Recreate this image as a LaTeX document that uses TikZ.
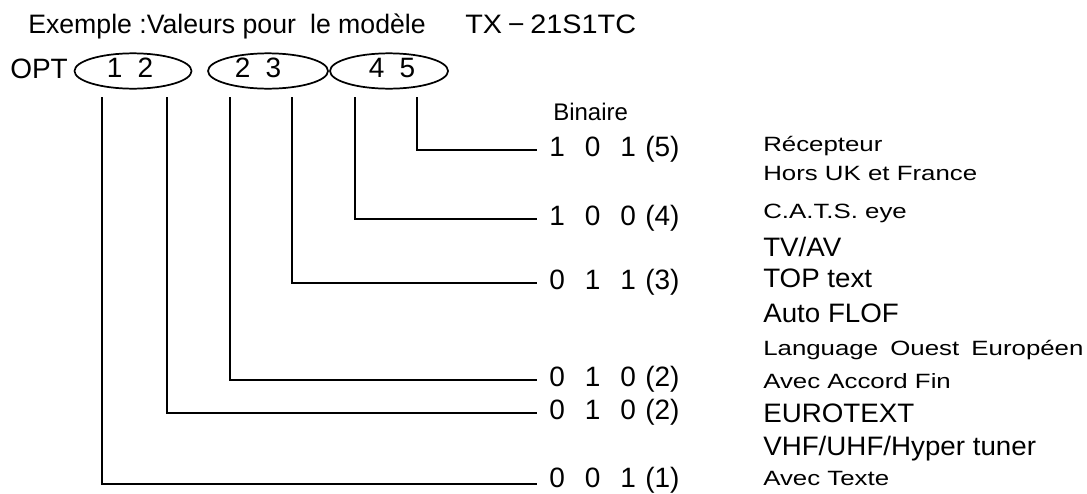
\documentclass[tikz,border=0pt]{standalone}
\usepackage{fontspec}
\usepackage{graphicx}
\setmainfont{Liberation Sans}
\usetikzlibrary{shapes.geometric}
\newcommand\wdn[1]{\scalebox{1.25}[1]{#1}}
\newcommand\wbg[1]{\scalebox{1.04}[1]{#1}}
\begin{document}
\begin{tikzpicture}[x=0.75pt,y=-0.75pt,
  lin/.style={line width=1.5pt},
  oval/.style={draw, ellipse, line width=1.3pt, minimum width=88pt, minimum height=26.5pt, inner sep=0pt},
  digs/.style={inner sep=0pt, font=\fontsize{21}{24}\selectfont},
  bin/.style={anchor=base west, inner sep=0pt, font=\fontsize{21}{24}\selectfont},
  head/.style={anchor=base west, inner sep=0pt, font=\fontsize{20}{24}\selectfont},
  sml/.style={anchor=base west, inner sep=0pt, font=\fontsize{15.5}{18}\selectfont},
  big/.style={anchor=base west, inner sep=0pt, font=\fontsize{20}{24}\selectfont}]
\useasboundingbox (0,0) rectangle (1087,493);

% heading
\node[head] (title) at (28,33) {Exemple :Valeurs pour\hspace{5pt} le modèle};
\node[head] (model) at (465,33) {\scalebox{1.08}[1]{TX\hspace{4pt}−\hspace{4pt}21S1TC}};
\node[anchor=base west, inner sep=0pt, font=\fontsize{21}{24}\selectfont] (opt) at (10,78) {OPT};

% ovals
\node[oval, minimum width=87.75pt] (o1) at (133,71) {};
\node[oval, minimum width=90pt] (o2) at (268,71) {};
\node[oval, minimum width=88.5pt] (o3) at (389,71) {};
\node[digs] (d1) at (130,68) {1\hspace{11.5pt}2};
\node[digs] (d2) at (258,68) {2\hspace{11.5pt}3};
\node[digs] (d3) at (392,68) {4\hspace{11.5pt}5};

% tops of the leader lines
\coordinate (t1) at (102,97);
\coordinate (t2) at (167,97);
\coordinate (t3) at (230,97);
\coordinate (t4) at (292,97);
\coordinate (t5) at (355,97);
\coordinate (t6) at (417,97);
% ends of the leader lines
\coordinate (c1) at (537,484);
\coordinate (c2) at (537,413);
\coordinate (c3) at (537,380);
\coordinate (c4) at (537,283);
\coordinate (c5) at (537,219);
\coordinate (c6) at (537,150);

\draw[lin] (t1) |- (c1);
\draw[lin] (t2) |- (c2);
\draw[lin] (t3) |- (c3);
\draw[lin] (t4) |- (c4);
\draw[lin] (t5) |- (c5);
\draw[lin] (t6) |- (c6);

% binary values
\node[anchor=base west, inner sep=0pt, font=\fontsize{18}{22}\selectfont] (binaire) at (553,120) {Binaire};
\node[bin] (b6) at (549,156) {1\hspace{15pt}0\hspace{15pt}1\hspace{7pt}(5)};
\node[bin] (b5) at (549,225) {1\hspace{15pt}0\hspace{15pt}0\hspace{7pt}(4)};
\node[bin] (b4) at (549,289) {0\hspace{15pt}1\hspace{15pt}1\hspace{7pt}(3)};
\node[bin] (b3) at (549,386) {0\hspace{15pt}1\hspace{15pt}0\hspace{7pt}(2)};
\node[bin] (b2) at (549,419) {0\hspace{15pt}1\hspace{15pt}0\hspace{7pt}(2)};
\node[bin] (b1) at (549,487) {0\hspace{15pt}0\hspace{15pt}1\hspace{7pt}(1)};

% meanings
\node[sml] (m1) at (763,151.5) {\wdn{Récepteur}};
\node[sml] (m2) at (763,180.5) {\wdn{Hors UK et France}};
\node[sml] (m3) at (763,218.5) {\wdn{C.A.T.S. eye}};
\node[big] (m4) at (763,256.5) {\wbg{TV/AV}};
\node[big] (m5) at (763,287.5) {\wbg{TOP text}};
\node[big] (m6) at (763,322.5) {\wbg{Auto FLOF}};
\node[sml] (m7) at (763,355.5) {\wdn{Language\hspace{3pt} Ouest\hspace{3pt} Européen}};
\node[sml] (m8) at (763,388.5) {\wdn{Avec Accord Fin}};
\node[big] (m9) at (763,422.5) {\wbg{EUROTEXT}};
\node[big] (m10) at (763,455.5) {\wbg{VHF/UHF/Hyper tuner}};
\node[sml] (m11) at (763,485.5) {\wdn{Avec Texte}};
\end{tikzpicture}
\end{document}
